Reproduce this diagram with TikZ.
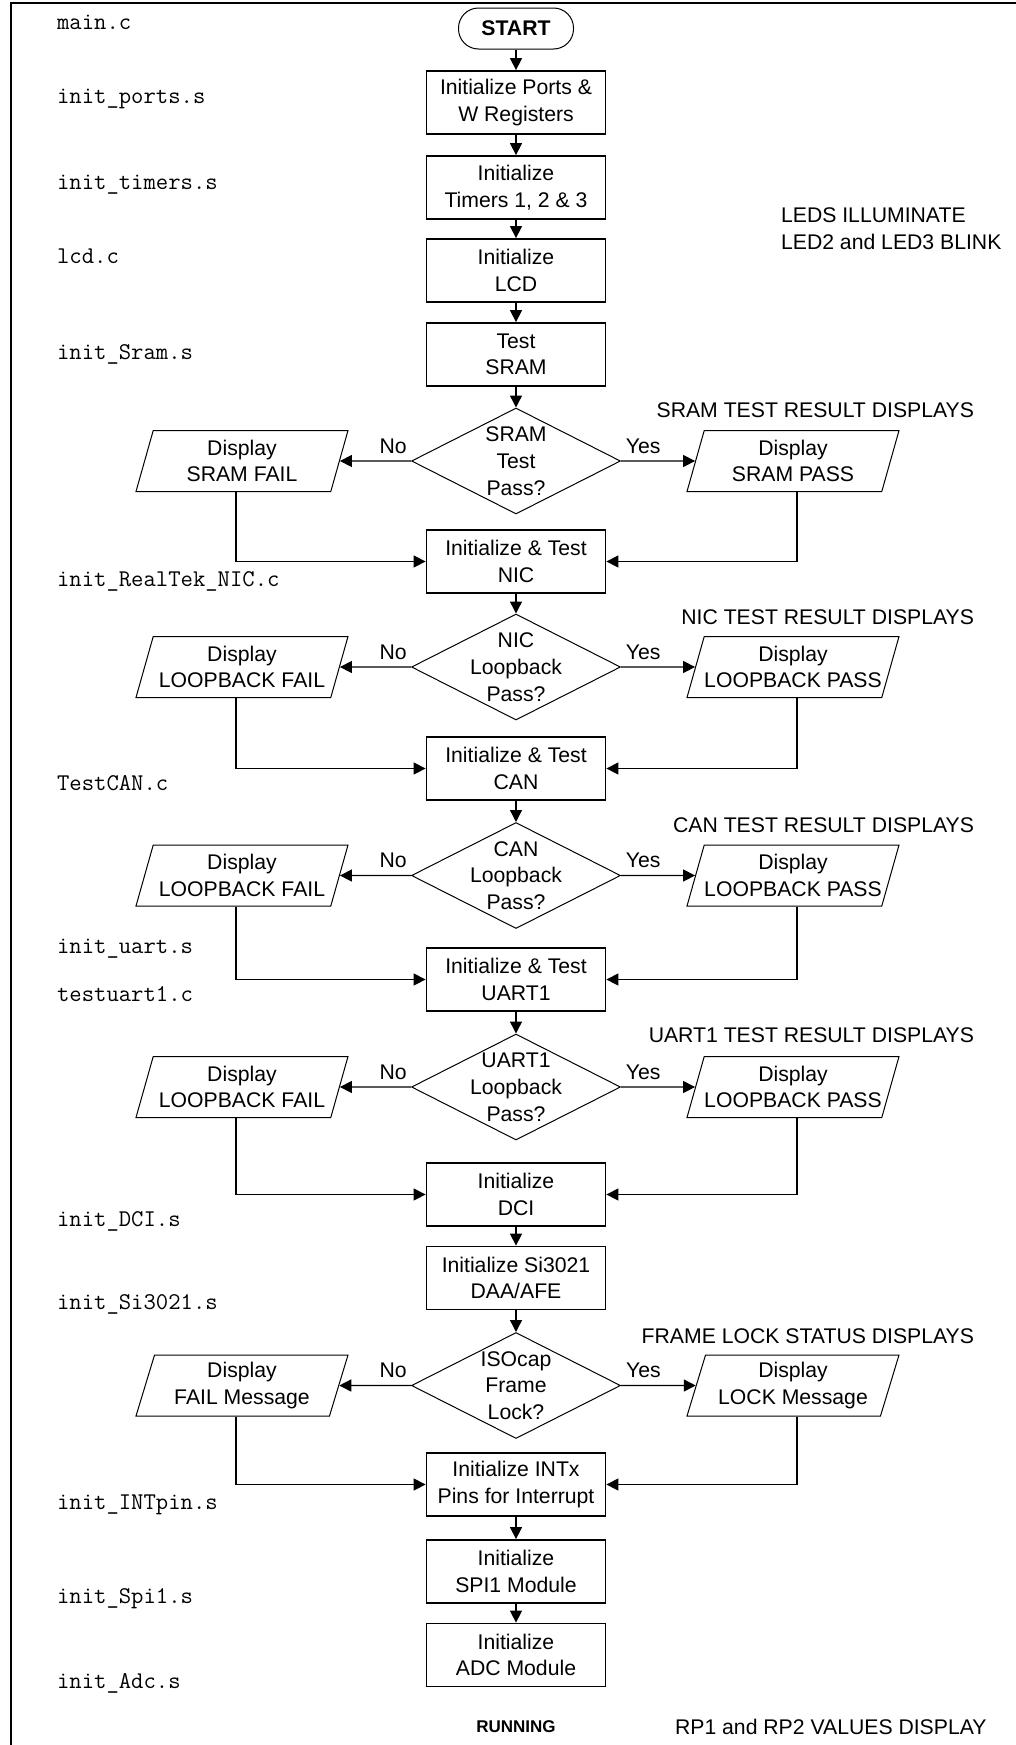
\documentclass[tikz,border=0pt]{standalone}
\usepackage{fontspec}
\setmainfont{Liberation Sans}
\usetikzlibrary{arrows.meta,shapes.geometric}

\begin{document}
\begin{tikzpicture}[
  x=0.5pt, y=-0.5pt, >={Triangle[length=6pt,width=6pt]},
  every node/.style={font=\fontsize{10.6}{13.2}\selectfont},
  proc/.style={draw, line width=0.9pt, minimum width=89.5pt, minimum height=31.5pt,
               align=center, inner sep=1pt},
  term/.style={draw, line width=0.5pt, rounded corners=10pt, minimum width=57.5pt,
               minimum height=20.5pt, font=\fontsize{10.6}{13.2}\selectfont\bfseries},
  dec/.style={diamond, draw, line width=0.5pt, minimum width=104.5pt,
              minimum height=53pt, inner sep=0pt},
  dtext/.style={align=center, font=\fontsize{10.6}{13.4}\selectfont},
  io/.style={trapezium, trapezium left angle=72.7, trapezium right angle=107.3,
             trapezium stretches body, draw, line width=0.5pt, minimum width=106pt,
             minimum height=30.5pt, inner xsep=0pt, align=center},
  file/.style={anchor=base west, font=\fontsize{12}{14}\ttfamily},
  note/.style={anchor=east},
  link/.style={->, line width=0.7pt}
]
  \useasboundingbox (0,0) rectangle (1016,1745);
  \draw[line width=1.2pt] (1016,3) -- (11,3) -- (11,1745);

  % main column
  \node[term] (start) at (516,28.5) {START};
  \foreach \n/\y/\txt in {
    b1/102.5/{Initialize Ports \&\\W Registers},
    b2/187.5/{Initialize\\Timers 1, 2 \& 3},
    b3/270.5/{Initialize\\LCD},
    b4/354.5/{Test\\SRAM},
    b5/561.5/{Initialize \& Test\\NIC},
    b6/768.5/{Initialize \& Test\\CAN},
    b7/979.5/{Initialize \& Test\\UART1},
    b8/1194.5/{Initialize\\DCI},
    b9/1278/{Initialize Si3021\\DAA/AFE},
    b10/1484.5/{Initialize INTx\\Pins for Interrupt},
    b11/1571.5/{Initialize\\SPI1 Module},
    b12/1655/{Initialize\\ADC Module}} {
    \node[proc] (\n) at (516,\y) {\txt};
  }
  \foreach \a/\b in {start/b1, b1/b2, b2/b3, b3/b4, b8/b9, b10/b11, b11/b12}
    \draw[link] (\a) -- (\b);

  % tests and their displays
  \foreach \d/\y/\q/\nf/\np/\prev/\next in {
    d1/461/{SRAM\\Test\\Pass?}/{Display\\SRAM FAIL}/{Display\\SRAM PASS}/b4/b5,
    d2/667/{NIC\\Loopback\\Pass?}/{Display\\LOOPBACK FAIL}/{Display\\LOOPBACK PASS}/b5/b6,
    d3/875.5/{CAN\\Loopback\\Pass?}/{Display\\LOOPBACK FAIL}/{Display\\LOOPBACK PASS}/b6/b7,
    d4/1087/{UART1\\Loopback\\Pass?}/{Display\\LOOPBACK FAIL}/{Display\\LOOPBACK PASS}/b7/b8,
    d5/1385.5/{ISOcap\\Frame\\Lock?}/{Display\\FAIL Message}/{Display\\LOCK Message}/b9/b10} {
    \node[dec, label={[dtext]center:\q}] (\d) at (516,\y) {};
    \node[io] (\d-no) at (242,\y) {\nf};
    \node[io] (\d-yes) at (793,\y) {\np};
    \draw[link] (\prev) -- (\d);
    \draw[link] (\d) -- node[pos=.25, above] (\d-nl) {No} (\d-no);
    \draw[link] (\d) -- node[pos=.3, above] (\d-yl) {Yes} (\d-yes);
    \draw[link] ([xshift=-3pt]\d-no.south) |- (\next);
    \draw[link] ([xshift=2pt]\d-yes.south) |- (\next);
  }

  % source files
  \foreach \t/\y [count=\i] in {main.c/29, init\_ports.s/103, init\_timers.s/189,
      lcd.c/263, init\_Sram.s/359, init\_RealTek\_NIC.c/586, TestCAN.c/790,
      init\_uart.s/953, testuart1.c/1001, init\_DCI.s/1226, init\_Si3021.s/1309,
      init\_INTpin.s/1509, init\_Spi1.s/1603, init\_Adc.s/1688}
    \node[file] (f\i) at (50,\y) {\t};

  % notes on the right
  \foreach \t/\y [count=\i] in {SRAM TEST RESULT DISPLAYS/410,
      NIC TEST RESULT DISPLAYS/617, CAN TEST RESULT DISPLAYS/825,
      UART1 TEST RESULT DISPLAYS/1035, FRAME LOCK STATUS DISPLAYS/1336}
    \node[note] (r\i) at (981,\y) {\t};
  \node[anchor=west, align=left] (leds) at (774,228.5) {LEDS ILLUMINATE\\LED2 and LED3 BLINK};
  \node[font=\fontsize{8.5}{10}\selectfont\bfseries] (run) at (516,1727) {RUNNING};
  \node[anchor=west] (rp) at (668,1727) {RP1 and RP2 VALUES DISPLAY};
\end{tikzpicture}
\end{document}
